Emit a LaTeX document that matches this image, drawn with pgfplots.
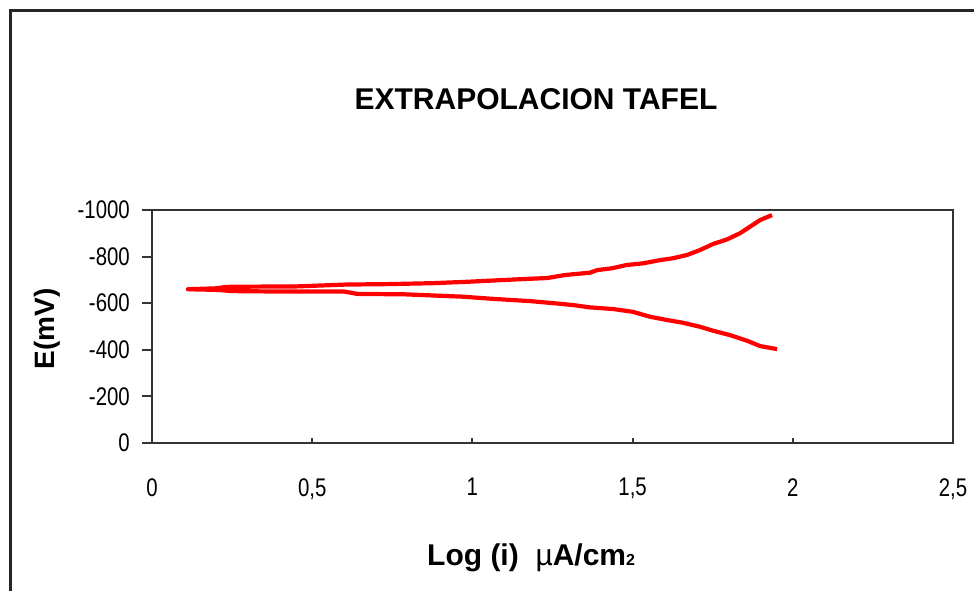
\documentclass[border=0pt]{standalone}
\usepackage{fontspec}
\setmainfont{Liberation Sans}
\newfontfamily\tickfont[FakeStretch=0.8]{Liberation Sans}
\usepackage{pgfplots}
\pgfplotsset{compat=1.18}
\begin{document}
\begin{tikzpicture}
\useasboundingbox (0pt,0pt) rectangle (974pt,590pt);
\fill[white] (0pt,0pt) rectangle (974pt,590pt);
\draw[black!85, line width=2.5pt] (10.6pt,-5pt) -- (10.6pt,579.4pt) -- (985pt,579.4pt);
\begin{axis}[
  at={(152pt,147pt)}, anchor=south west,
  scale only axis, width=801pt, height=233pt,
  xmin=0, xmax=2.5, ymin=-1000, ymax=0, y dir=reverse,
  axis line style={black!80, line width=2pt},
  tick pos=left, tick align=inside, major tick length=10pt,
  tick style={black!80, line width=2pt},
  y tick style={xshift=-10pt},
  x tick style={dash pattern=on 5pt off 30pt},
  xtick={0,0.5,1,1.5,2,2.5},
  xticklabels={0,{0,5},1,{1,5},2,{2,5}},
  ytick={-1000,-800,-600,-400,-200,0},
  yticklabels={-1000,-800,-600,-400,-200,0},
  xticklabel style={font=\tickfont\fontsize{25.5}{26}\selectfont, anchor=north, inner sep=0pt, yshift=-35pt},
  yticklabel style={font=\tickfont\fontsize{25.5}{26}\selectfont, anchor=east, inner sep=0pt, xshift=-22pt},
  clip=false,
]
\addplot[red, line width=4.2pt, line join=round] table {
x y
1.935 -978
1.898 -957
1.866 -928
1.835 -900
1.795 -874
1.751 -854
1.710 -828
1.670 -807
1.626 -793
1.586 -785
1.532 -771
1.482 -764
1.436 -750
1.389 -742
1.367 -731
1.289 -721
1.233 -708
1.164 -704
0.985 -692
0.877 -686
0.740 -682
0.605 -680
0.450 -672
0.300 -671
0.230 -670
0.203 -664
0.112 -660
0.203 -657
0.250 -652
0.400 -650
0.600 -650
0.640 -640
0.790 -638
0.970 -628
1.060 -619
1.180 -609
1.270 -598
1.314 -592
1.367 -582
1.439 -575
1.501 -563
1.554 -542
1.607 -528
1.657 -516
1.710 -499
1.751 -482
1.804 -463
1.857 -439
1.898 -416
1.951 -403
};
\end{axis}
\node[font=\bfseries\fontsize{30}{32}\selectfont, inner sep=0pt] at (536pt,491pt) {EXTRAPOLACION TAFEL};
\node[font=\bfseries\fontsize{30}{32}\selectfont, inner sep=0pt, anchor=base west] at (427pt,25pt) {Log (i) \ {\mdseries µ}A/cm{\fontsize{16}{16}\selectfont 2}};
\node[font=\bfseries\fontsize{28}{30}\selectfont, inner sep=0pt, rotate=90] at (47pt,261pt) {E(mV)};
\end{tikzpicture}
\end{document}
